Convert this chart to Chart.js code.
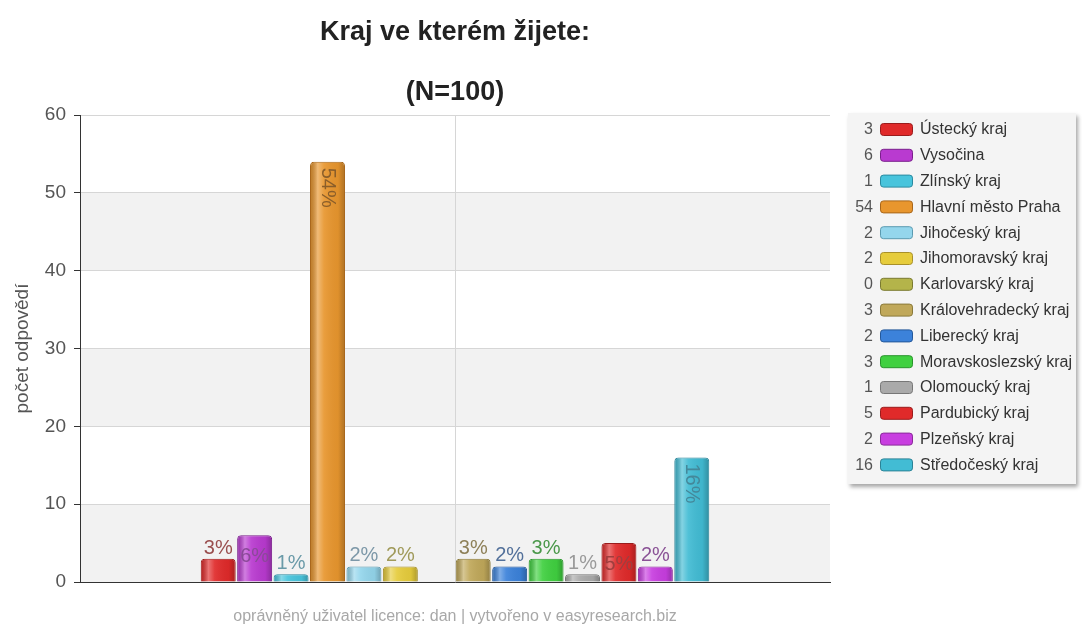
<!DOCTYPE html>
<html>
<head>
<meta charset="utf-8">
<script src="https://cdn.jsdelivr.net/npm/chart.js@4/dist/chart.umd.min.js"></script>
<style>
html,body{margin:0;padding:0;background:#fff;}
</style>
</head>
<body>
<canvas id="myChart" width="1082" height="626"></canvas>
<script>
var regions = ["Ústecký kraj","Vysočina","Zlínský kraj","Hlavní město Praha","Jihočeský kraj","Jihomoravský kraj","Karlovarský kraj","Královehradecký kraj","Liberecký kraj","Moravskoslezský kraj","Olomoucký kraj","Pardubický kraj","Plzeňský kraj","Středočeský kraj"];
var counts = [3,6,1,54,2,2,0,3,2,3,1,5,2,16];
var respondents = 100;
var yTicks = [0,10,20,30,40,50,60];
var titleText = "Kraj ve kterém žijete:";
var subtitleText = "(N=100)";
var yTitle = "počet odpovědí";
var footerText = "oprávněný uživatel licence: dan | vytvořeno v easyresearch.biz";

var barColors = ["#e02a2a","#b93ad0","#48c4dc","#e8962e","#94d6ec","#e6cc3c","#b4b44a","#c0a85a","#3c82da","#40d040","#aaaaaa","#e02a2a","#c83ee0","#42bcd4"];
var edgeColors = ["#9a1c1c","#7a1e8c","#2a8aa0","#a8661a","#5a9ab0","#a8902a","#7a7a30","#8a7a3a","#24589a","#28942a","#777777","#9a1c1c","#8a2a9a","#2a8296"];
var labelColors = ["#9a4f4f","#8a4a98","#6a9aa8","#8a5e2a","#7d98a8","#a09a5a","#8a8a55","#8e8058","#52709a","#4a984a","#9a9a9a","#a03e3e","#8a5296","#44889a"];

var FONT = "'Liberation Sans', Arial, sans-serif";

var datasets = regions.map(function(name, i){
  return {
    label: name,
    data: [counts[i]],
    backgroundColor: barColors[i],
    borderColor: edgeColors[i],
    borderWidth: 1,
    borderSkipped: "bottom",
    borderRadius: {topLeft: 4, topRight: 4, bottomLeft: 0, bottomRight: 0},
    categoryPercentage: 0.68,
    barPercentage: 0.96
  };
});

// alternating grey bands behind the plot
var bandsPlugin = {
  id: "bands",
  beforeDraw: function(chart){
    var ctx = chart.ctx, a = chart.chartArea, y = chart.scales.y;
    ctx.save();
    for (var i = 0; i < yTicks.length - 1; i += 2) {
      var y1 = y.getPixelForValue(yTicks[i+1]), y0 = y.getPixelForValue(yTicks[i]);
      ctx.fillStyle = "#f2f2f2";
      ctx.fillRect(a.left, y1, a.right - a.left, y0 - y1);
    }
    ctx.restore();
  }
};

// glossy shading on the bars + percentage labels
var barDecor = {
  id: "barDecor",
  afterDatasetsDraw: function(chart){
    var ctx = chart.ctx;
    ctx.save();
    chart.data.datasets.forEach(function(ds, i){
      var el = chart.getDatasetMeta(i).data[0];
      var v = ds.data[0];
      if (!el || !v) return;
      var l = el.x - el.width/2, r = el.x + el.width/2, t = el.y, b = el.base;
      var g = ctx.createLinearGradient(l, 0, r, 0);
      g.addColorStop(0, "rgba(0,0,0,0.18)");
      g.addColorStop(0.22, "rgba(255,255,255,0.35)");
      g.addColorStop(0.4, "rgba(255,255,255,0.08)");
      g.addColorStop(0.8, "rgba(0,0,0,0.04)");
      g.addColorStop(1, "rgba(0,0,0,0.25)");
      ctx.fillStyle = g;
      ctx.beginPath();
      ctx.roundRect(l + 1, t + 1, r - l - 2, b - t - 1, [3,3,0,0]);
      ctx.fill();

      var pct = Math.round(v / respondents * 100) + "%";
      ctx.fillStyle = labelColors[i];
      ctx.font = "20px " + FONT;
      if (v >= 10) {
        ctx.save();
        ctx.translate(el.x, t + 6);
        ctx.rotate(Math.PI/2);
        ctx.textAlign = "left";
        ctx.textBaseline = "middle";
        ctx.fillText(pct, 0, 0);
        ctx.restore();
      } else if (v >= 5) {
        ctx.textAlign = "center";
        ctx.textBaseline = "alphabetic";
        ctx.fillText(pct, el.x, t + 27);
      } else {
        ctx.textAlign = "center";
        ctx.textBaseline = "alphabetic";
        ctx.fillText(pct, el.x, t - 5);
      }
    });
    ctx.restore();
  }
};

// titles, footer and side legend
var frame = {
  id: "frame",
  afterDraw: function(chart){
    var ctx = chart.ctx, a = chart.chartArea;
    var cx = (a.left + a.right) / 2;
    ctx.save();
    ctx.fillStyle = "#222";
    ctx.textAlign = "center";
    ctx.textBaseline = "middle";
    ctx.font = "bold 27px " + FONT;
    ctx.fillText(titleText, cx, 33);
    ctx.fillText(subtitleText, cx, 93);
    ctx.fillStyle = "#a8a8a8";
    ctx.font = "16px " + FONT;
    ctx.fillText(footerText, cx, 617);

    // legend box
    var bx = 848, by = 113, bw = 228, bh = 371;
    ctx.save();
    ctx.shadowColor = "rgba(0,0,0,0.35)";
    ctx.shadowBlur = 4;
    ctx.shadowOffsetX = 2;
    ctx.shadowOffsetY = 3;
    ctx.fillStyle = "#f4f4f4";
    ctx.fillRect(bx, by, bw, bh);
    ctx.restore();

    ctx.font = "16px " + FONT;
    ctx.textBaseline = "middle";
    regions.forEach(function(name, i){
      var ry = 130 + i * 25.8;
      ctx.fillStyle = "#555";
      ctx.textAlign = "right";
      ctx.fillText(String(counts[i]), 873, ry);
      ctx.fillStyle = barColors[i];
      ctx.strokeStyle = edgeColors[i];
      ctx.lineWidth = 1;
      ctx.beginPath();
      ctx.roundRect(880.5, ry - 6.5, 32, 12, 3);
      ctx.fill();
      ctx.stroke();
      ctx.fillStyle = "#333";
      ctx.textAlign = "left";
      ctx.fillText(name, 920, ry);
    });
    ctx.restore();
  }
};

new Chart("myChart", {
  type: "bar",
  data: {
    labels: [""],
    datasets: datasets
  },
  options: {
    responsive: false,
    animation: false,
    layout: { padding: { left: 0, top: 115, right: 252, bottom: 44 } },
    plugins: {
      legend: { display: false },
      tooltip: { enabled: false },
      title: { display: false }
    },
    scales: {
      x: {
        ticks: { display: false },
        grid: { offset: false, color: "#d6d6d6", drawTicks: false },
        border: { display: true, color: "#333", width: 1 },
        afterFit: function(s){ s.height = 0; }
      },
      y: {
        min: 0,
        max: 60,
        afterBuildTicks: function(s){ s.ticks = yTicks.map(function(v){ return {value: v}; }); },
        ticks: { color: "#555", font: { size: 19, family: FONT }, padding: 8 },
        grid: { color: "#d6d6d6", tickColor: "#333", tickLength: 6 },
        border: { display: true, color: "#333", width: 1 },
        title: { display: true, text: yTitle, color: "#555", font: { size: 19, family: FONT }, padding: { top: 11, bottom: 0 } },
        afterFit: function(s){ s.width = 80; }
      }
    }
  },
  plugins: [bandsPlugin, barDecor, frame]
});
</script>
</body>
</html>
